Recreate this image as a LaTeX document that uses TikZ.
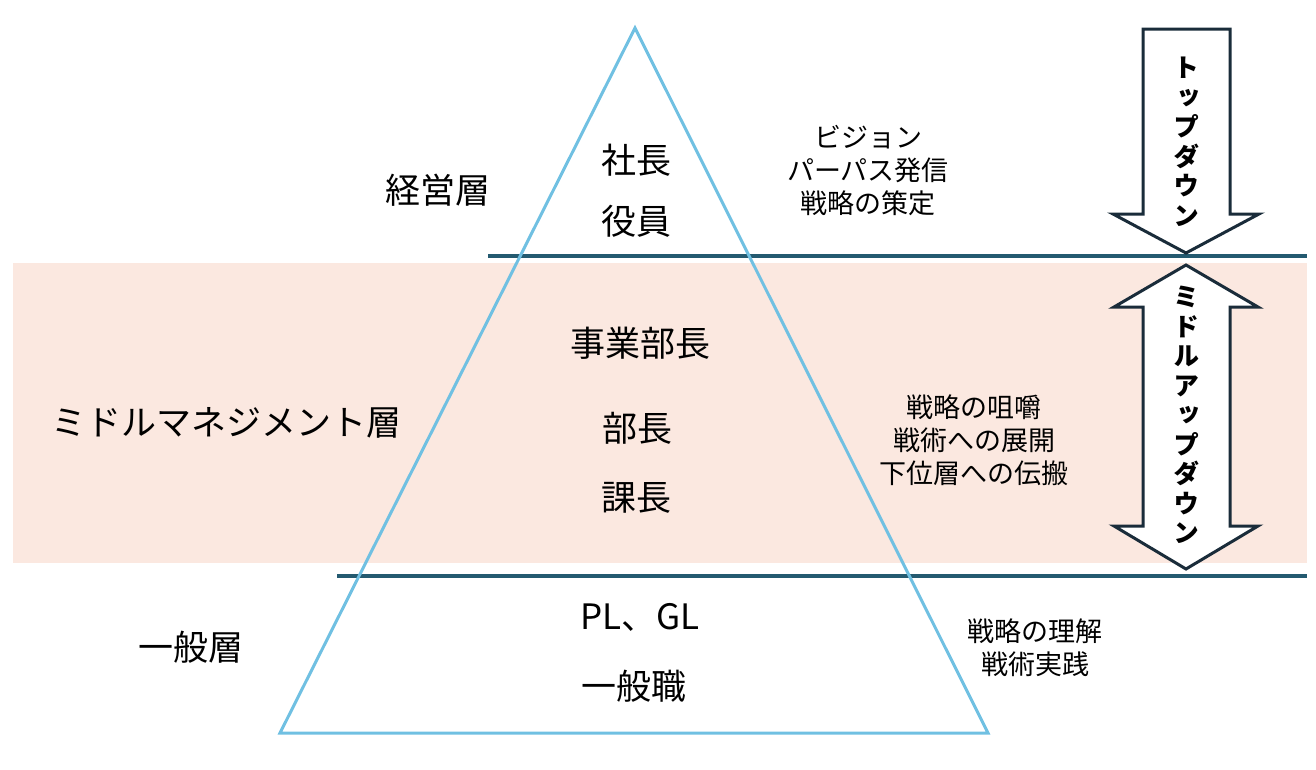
\documentclass[tikz,border=0pt]{standalone}
\usepackage{fontspec}
\setmainfont{Noto Sans CJK JP}
\newfontfamily\vertfont[RawFeature=+vert]{Noto Sans CJK JP}
\usepackage{tikz}
\usetikzlibrary{positioning}
\definecolor{pyrblue}{RGB}{112,192,226}
\definecolor{layerline}{RGB}{36,90,112}
\definecolor{midband}{RGB}{251,232,224}
\definecolor{arrowline}{RGB}{26,44,58}
\tikzset{
  layer/.style={font=\fontsize{35}{40}\selectfont},
  rank/.style={font=\fontsize{35}{40}\selectfont},
  note/.style={align=center,font=\fontsize{27}{33}\selectfont},
  vtext/.style={align=center,font=\vertfont\bfseries\fontsize{26}{29.5}\selectfont},
  pyramid/.style={draw=pyrblue,line width=3pt,line join=miter},
  divider/.style={draw=layerline,line width=3.5pt},
  blockarrow/.style={draw=arrowline,line width=3pt,fill=white,line join=miter}
}
\begin{document}
\begin{tikzpicture}[x=1pt,y=-1pt]
    \useasboundingbox (0,0) rectangle (1316,769);
    % middle management band
    \fill[midband] (13,263) rectangle (1307,563);
    \coordinate (apex) at (635,28);
    \coordinate (baseL) at (280,733);
    \coordinate (baseR) at (988,733);
    \coordinate (upS) at (488,256);
    \coordinate (upE) at (1307,256);
    \coordinate (loS) at (337,576);
    \coordinate (loE) at (1307,576);
    \draw[divider] (upS) -- (upE);
    \draw[divider] (loS) -- (loE);
    \draw[pyramid] (apex) -- (baseR) -- (baseL) -- cycle;
    % layer names
    \node[layer] (keiei) at (438,190) {経営層};
    \node[layer] (middle) at (226,423) {ミドルマネジメント層};
    \node[layer] (ippan) at (191,647) {一般層};
    % ranks in the pyramid
    \node[rank] (shacho) at (636,160) {社長};
    \node[rank] (yakuin) at (636,221) {役員};
    \node[rank] (jigyo) at (640,343) {事業部長};
    \node[rank] (bucho) at (637,428) {部長};
    \node[rank] (kacho) at (636,498) {課長};
    \node[rank] (plgl) at (640,617) {PL、GL};
    \node[rank] (ippanshoku) at (634,686) {一般職};
    % roles
    \node[note] (roleTop) at (868,171) {ビジョン\\パーパス発信\\戦略の策定};
    \node[note] (roleMid) at (974,440) {戦略の咀嚼\\戦術への展開\\下位層への伝搬};
    \node[note] (roleLow) at (1035,648) {戦略の理解\\戦術実践};
    % block arrows
    \draw[blockarrow] (1143,29) -- (1230,29) -- (1230,214) -- (1259,214)
      -- (1186,253) -- (1113,214) -- (1143,214) -- cycle;
    \draw[blockarrow] (1186,265) -- (1258,307) -- (1230,307) -- (1230,526)
      -- (1258,526) -- (1186,569) -- (1114,526) -- (1143,526) -- (1143,307)
      -- (1114,307) -- cycle;
    \node[vtext] (topdown) at (1186,142) {ト\\ッ\\プ\\ダ\\ウ\\ン};
    \node[vtext] (midupdown) at (1186,415) {ミ\\ド\\ル\\ア\\ッ\\プ\\ダ\\ウ\\ン};
\end{tikzpicture}
\end{document}
